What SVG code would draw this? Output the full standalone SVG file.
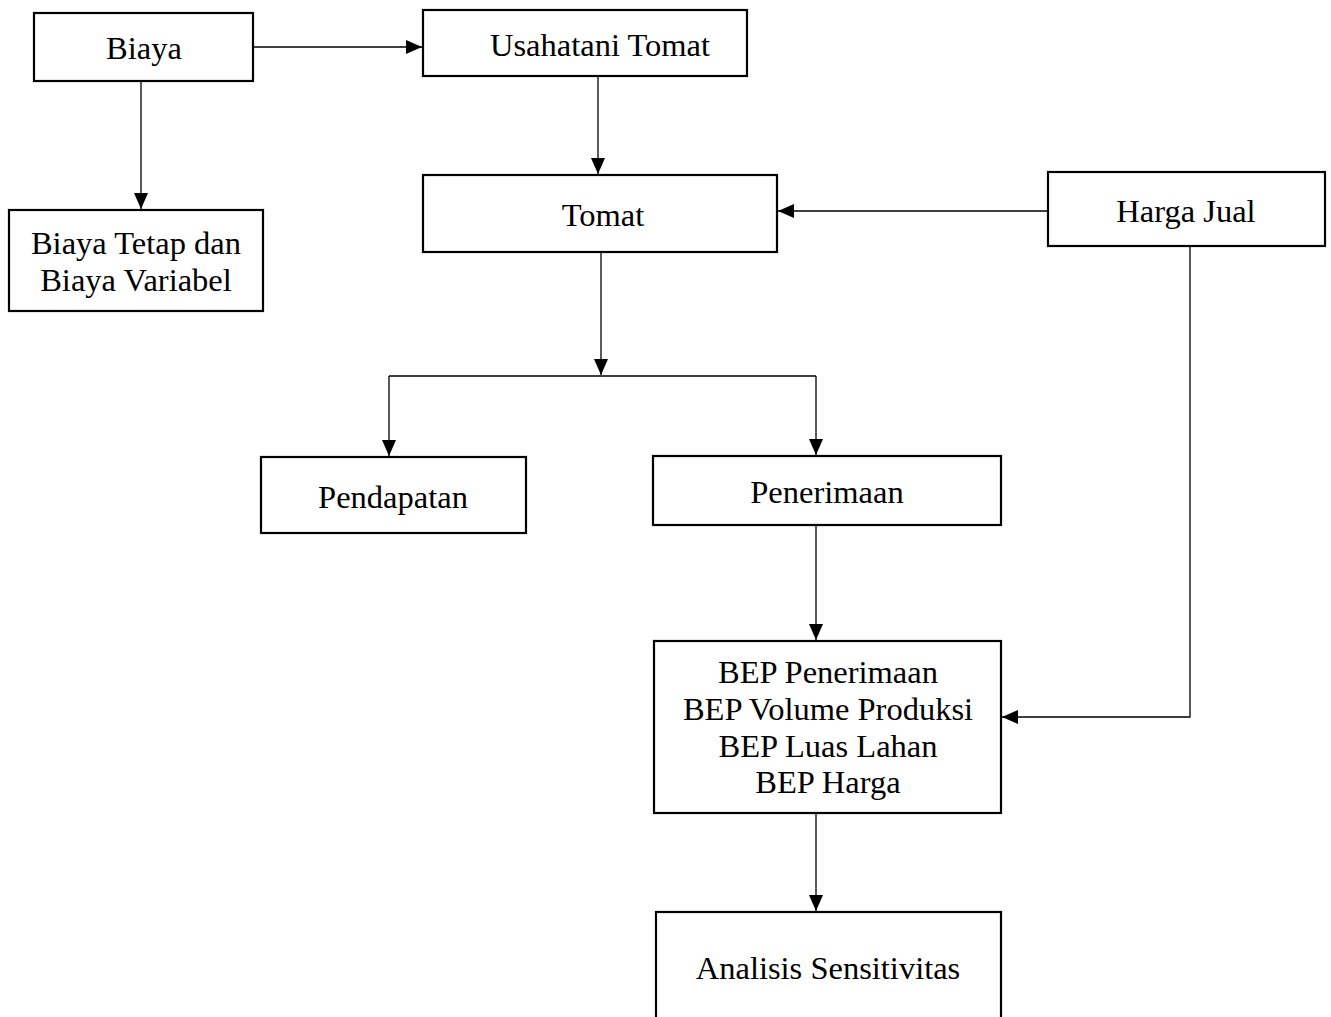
<svg xmlns="http://www.w3.org/2000/svg" width="1331" height="1017" viewBox="0 0 1331 1017">
<style>
.box{fill:#fff;stroke:#000;stroke-width:2.2}
.t{font-family:"Liberation Serif","Times New Roman",serif;font-size:32.5px;fill:#000;text-anchor:middle}
.c{fill:none;stroke:#000;stroke-width:1.3}
</style>
<defs>
<marker id="ah" markerWidth="16" markerHeight="14" refX="16" refY="7" orient="auto" markerUnits="userSpaceOnUse">
<path d="M0,0 L16,7 L0,14 Z" fill="#000"/>
</marker>
</defs>
<rect width="1331" height="1017" fill="#fff"/>
<g id="connectors">
<path class="c" d="M253,47 H422" marker-end="url(#ah)"/>
<path class="c" d="M141,81 V209" marker-end="url(#ah)"/>
<path class="c" d="M598,76 V174" marker-end="url(#ah)"/>
<path class="c" d="M1048,211 H778" marker-end="url(#ah)"/>
<path class="c" d="M601,252 V375" marker-end="url(#ah)"/>
<path class="c" d="M389,376 H816"/>
<path class="c" d="M389,376 V456" marker-end="url(#ah)"/>
<path class="c" d="M816,376 V455" marker-end="url(#ah)"/>
<path class="c" d="M816,525 V640" marker-end="url(#ah)"/>
<path class="c" d="M1190,246 V717 H1002" marker-end="url(#ah)"/>
<path class="c" d="M816,813 V911" marker-end="url(#ah)"/>
</g>
<g id="biaya"><rect class="box" x="34" y="13" width="219" height="68"/><text class="t" x="144" y="59">Biaya</text></g>
<g id="usahatani"><rect class="box" x="423" y="10" width="324" height="66"/><text class="t" x="600" y="56">Usahatani Tomat</text></g>
<g id="biaya-tetap"><rect class="box" x="9" y="210" width="254" height="101"/><text class="t" x="136" y="254">Biaya Tetap dan</text><text class="t" x="136" y="291">Biaya Variabel</text></g>
<g id="tomat"><rect class="box" x="423" y="175" width="354" height="77"/><text class="t" x="603" y="226">Tomat</text></g>
<g id="harga-jual"><rect class="box" x="1048" y="172" width="277" height="74"/><text class="t" x="1186" y="222">Harga Jual</text></g>
<g id="pendapatan"><rect class="box" x="261" y="457" width="265" height="76"/><text class="t" x="393" y="508">Pendapatan</text></g>
<g id="penerimaan"><rect class="box" x="653" y="456" width="348" height="69"/><text class="t" x="827" y="503">Penerimaan</text></g>
<g id="bep"><rect class="box" x="654" y="641" width="347" height="172"/><text class="t" x="828" y="683">BEP Penerimaan</text><text class="t" x="828" y="720">BEP Volume Produksi</text><text class="t" x="828" y="757">BEP Luas Lahan</text><text class="t" x="828" y="793">BEP Harga</text></g>
<g id="analisis"><rect class="box" x="656" y="912" width="345" height="130"/><text class="t" x="828" y="979">Analisis Sensitivitas</text></g>
</svg>
